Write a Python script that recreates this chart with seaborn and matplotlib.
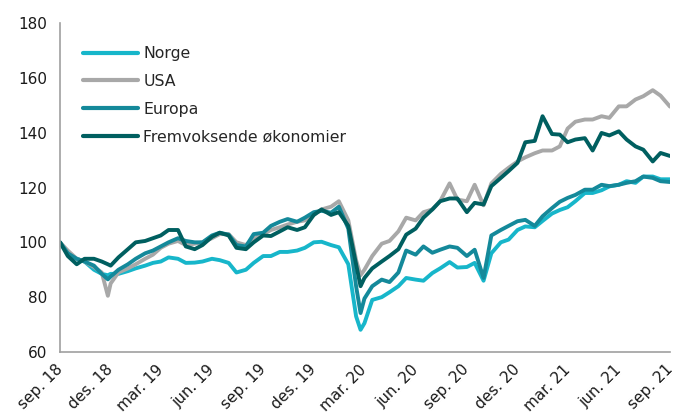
import matplotlib
matplotlib.use("Agg")
import matplotlib.pyplot as plt
import pandas as pd
import seaborn as sns

sns.set_style("white")
plt.rcParams["font.family"] = ["DejaVu Sans"]

# semi-monthly points (1st and 15th), plus two extra days to catch the sharp lows
dates = list(pd.date_range("2018-09-01", "2021-09-01", freq="SMS"))
dates += [pd.Timestamp("2018-11-26"), pd.Timestamp("2020-02-23")]
dates = sorted(dates)

norge = [100, 96, 94, 93, 90, 88.5, 88, 88.5, 88.5, 89.5, 90.5, 91.5, 92.5,
         93, 94.5, 94, 92.5, 92.6, 93, 94, 93.5, 92.5, 89, 90, 92.5,
         95, 95, 96.5, 96.5, 97, 98, 100, 100.2, 99, 98.2, 92, 73,
         68.1, 70.5, 79, 80, 81.8, 84, 87, 86.4, 86, 88.8, 90.5, 92.8,
         90.8, 91, 92.5, 86, 96, 100, 101, 104.5, 105.8, 105.5, 107.8, 110.5,
         111.8, 112.8, 115, 118, 118, 119, 120.4, 121, 122.3, 121.7, 124, 124,
         123, 123]
usa = [100, 97, 94, 93, 91, 89, 80.5, 85, 89, 90.5, 92, 94, 95.5,
       98, 99.5, 100.5, 99, 99.5, 100, 101.5, 103, 103, 100, 99, 101.5,
       103, 104.5, 105.5, 106.5, 107.5, 108, 110, 112, 113, 115, 108, 93.5,
       88, 90, 95, 99.5, 100.5, 104, 109, 108, 111, 112, 115, 121.5,
       115.6, 115, 121, 113.5, 121.5, 125, 127.2, 129.5, 131, 132.5, 133.5, 133.5,
       135, 141.5, 144, 144.8, 144.8, 146, 145.4, 149.6, 149.6, 152.1, 153.3, 155.5,
       153.5, 149.5]
europa = [100, 96, 94, 93, 91.5, 88.5, 86.5, 87.5, 90, 92, 94, 96, 97,
          98.5, 100, 101.5, 100.5, 100, 100, 102.5, 103.5, 102.8, 99, 98.5, 103,
          103.5, 106, 107.5, 108.5, 107.5, 109, 111, 111.5, 110.8, 113, 105, 84,
          74.2, 79.5, 84, 86.4, 85.5, 89, 97, 95.5, 98.5, 96.2, 97.3, 98.5,
          98, 95, 97.3, 87, 102.5, 104.5, 106, 107.7, 108.2, 106, 109.5, 112.5,
          114.8, 116.2, 117.3, 119.2, 119.2, 121, 120.5, 121, 121.7, 122.3, 124, 123.5,
          122.3, 122]
fremvoksende = [100, 95, 92, 94, 94, 93, 92, 91.5, 94.5, 97.5, 100, 100.5, 101.5,
                102.5, 104.5, 104.5, 98.5, 97.5, 99, 102, 103.5, 102.5, 98, 97.5, 100,
                102.5, 102.3, 104, 105.5, 104.5, 105.5, 110, 112, 110, 111, 106, 92,
                84, 87, 90.5, 93, 95, 97.5, 102.8, 105, 109, 112, 115, 116,
                116, 111, 114.4, 113.8, 120.5, 123.5, 126, 129, 136.5, 137, 146, 139.5,
                139.3, 136.5, 137.5, 138, 133.5, 139.9, 139, 140.5, 137.5, 135, 133.8, 129.5,
                132.6, 131.5]

series = ["Norge", "USA", "Europa", "Fremvoksende økonomier"]
colors = ["#17b6ca", "#a8a8a8", "#14899a", "#005f60"]

tick_dates = pd.date_range("2018-09-01", "2021-09-01", freq="3MS")
tick_labels = ["sep. 18", "des. 18", "mar. 19", "jun. 19", "sep. 19", "des. 19",
               "mar. 20", "jun. 20", "sep. 20", "des. 20", "mar. 21", "jun. 21",
               "sep. 21"]

df = pd.DataFrame({"dato": dates, "Norge": norge, "USA": usa, "Europa": europa,
                   "Fremvoksende økonomier": fremvoksende})
long = df.melt(id_vars="dato", var_name="serie", value_name="indeks")

fig = plt.figure(figsize=(6.75, 4.17), dpi=100)
ax = fig.add_axes([0.0889, 0.1559, 0.9037, 0.7889])

sns.lineplot(data=long, x="dato", y="indeks", hue="serie", hue_order=series,
             palette=dict(zip(series, colors)), linewidth=2.8, ax=ax)

ax.set_xlim(tick_dates[0], tick_dates[-1])
ax.set_ylim(60, 180)
ax.set_yticks(range(60, 181, 20))
ax.set_xticks(tick_dates)
ax.set_xticklabels(tick_labels, rotation=45, ha="right", va="center",
                   rotation_mode="anchor")
ax.set_xlabel("")
ax.set_ylabel("")

for side in ["top", "right"]:
    ax.spines[side].set_visible(False)
for side in ["left", "bottom"]:
    ax.spines[side].set_color("#a0a0a0")
    ax.spines[side].set_linewidth(1.2)
ax.tick_params(axis="both", colors="#a0a0a0", labelcolor="#1a1a1a",
               labelsize=11, length=4, width=1.2, direction="out")
ax.tick_params(axis="x", pad=7)
ax.tick_params(axis="y", pad=5)

handles, labels = ax.get_legend_handles_labels()
leg = ax.legend(handles, labels, loc="upper left", bbox_to_anchor=(0.038, 0.93),
                frameon=False, fontsize=11.3, handlelength=3.5, handletextpad=0.33,
                labelspacing=0.82, borderpad=0, borderaxespad=0)
for line in leg.get_lines():
    line.set_linewidth(3)

fig.savefig("out.png", dpi=100)
